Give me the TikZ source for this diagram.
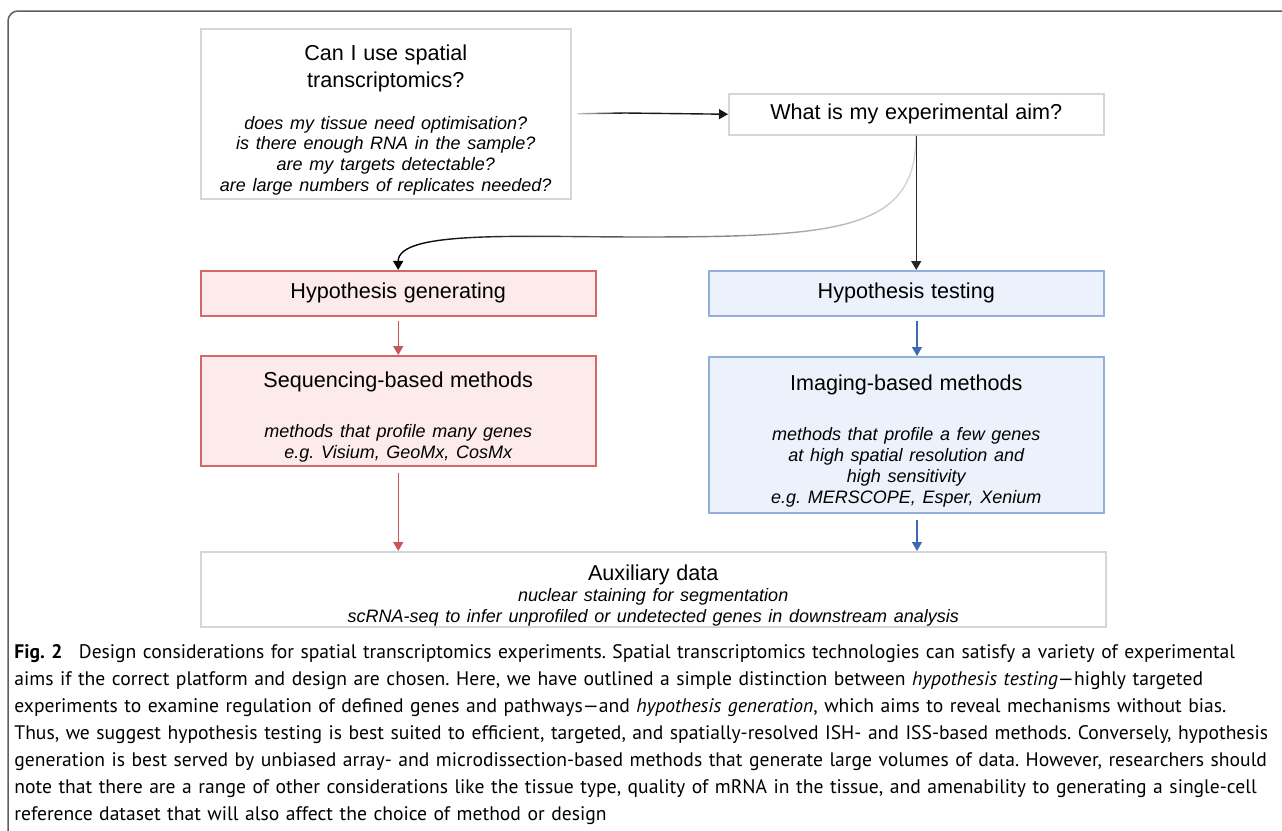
\documentclass[tikz,border=0pt]{standalone}
\usepackage{fontspec}
\setmainfont{Liberation Sans}
\newfontfamily\capfont{PT Sans}
\usetikzlibrary{positioning, arrows.meta, fadings}
\frenchspacing

\definecolor{boxgray}{HTML}{D3D6DB}
\definecolor{framegray}{HTML}{5E5E5E}
\definecolor{redline}{HTML}{D3676A}
\definecolor{redfill}{HTML}{FDEAEA}
\definecolor{redarrow}{HTML}{C8555A}
\definecolor{blueline}{HTML}{94AFDC}
\definecolor{bluefill}{HTML}{ECF2FB}
\definecolor{bluearrow}{HTML}{3B69B3}

\tikzfading[name=fadein, left color=transparent!80, right color=transparent!0]
\tikzfading[name=fadeaim, left color=transparent!0, middle color=transparent!0, right color=transparent!85]

\newcommand{\boxtitle}{\fontsize{10.8}{13.5}\selectfont}
\newcommand{\boxnote}{\itshape\fontsize{9}{10.4}\selectfont}
\newcommand{\topstrut}{\rule{0pt}{14pt}}

\begin{document}
\begin{tikzpicture}[x=0.5pt, y=-0.5pt,
    plain/.style={draw=boxgray, fill=white, line width=0.75pt, inner sep=0pt, align=center, anchor=north west},
    gen/.style={plain, draw=redline, fill=redfill},
    test/.style={plain, draw=blueline, fill=bluefill},
    tip/.style={-{Triangle[length=4.5pt, width=5pt]}, line width=0.7pt},
  ]
    \useasboundingbox (0,0) rectangle (1282,831);
    % Marco
    \draw[framegray, line width=0.75pt, rounded corners=5pt] (8,11) rectangle (1300,850);

    % Cajas
    \node[plain, text width=185pt, minimum height=85pt] (use) at (200,28)
        {{\boxtitle\topstrut Can I use spatial\\transcriptomics?\par}\vspace{10.6pt}
         {\boxnote does my tissue need optimisation?\\is there enough RNA in the sample?\\
          are my targets detectable?\\are large numbers of replicates needed?\par}};
    \node[plain, text width=187.5pt, minimum height=20.5pt] (aim) at (728,93)
        {\boxtitle What is my experimental aim?};
    \node[gen, text width=197.5pt, minimum height=22.5pt] (gen) at (200,270)
        {\boxtitle Hypothesis generating};
    \node[test, text width=197.5pt, minimum height=22.5pt] (test) at (708,270)
        {\boxtitle Hypothesis testing};
    \node[gen, text width=197.5pt, minimum height=55pt] (seq) at (200,355)
        {{\boxtitle\topstrut Sequencing-based methods\par}\vspace{14.6pt}
         {\boxnote methods that profile many genes\\e.g. Visium, GeoMx, CosMx\par}};
    \node[test, text width=197.5pt, minimum height=78pt] (img) at (708,356)
        {{\boxtitle\topstrut Imaging-based methods\par}\vspace{14.6pt}
         {\boxnote methods that profile a few genes\\at high spatial resolution and\\
          high sensitivity\\e.g. MERSCOPE, Esper, Xenium\par}};
    \node[plain, text width=452.5pt, minimum height=37.5pt] (aux) at (200,551)
        {{\boxtitle\topstrut Auxiliary data\par}
         {\boxnote nuclear staining for segmentation\\
          scRNA-seq to infer unprofiled or undetected genes in downstream analysis\par}};

    % Flechas
    \coordinate (bend) at (640,237);
    \coordinate (lane) at (917,0);
    \coordinate (fadeend) at (625,113);
    \draw[line width=0.7pt, path fading=fadein] ([xshift=3pt]use.east) -- (fadeend);
    \draw[tip, black!90] (fadeend) -- (aim.west);
    \draw[tip, path fading=fadeaim] (aim.south) .. controls +(0,95) and +(200,0) .. (bend)
        .. controls +(-120,0) and +(0,-40) .. (gen.north);
    \draw[tip, black!85] (aim.south) -- (aim.south |- test.north);
    \draw[tip, redarrow] ([yshift=-2pt]gen.south) -- (seq.north);
    \draw[tip, redarrow] ([yshift=-3pt]seq.south) -- (seq.south |- aux.north);
    \draw[tip, bluearrow] ([yshift=-2pt]lane |- test.south) -- (lane |- img.north);
    \draw[tip, bluearrow] ([yshift=-3pt]lane |- img.south) -- (lane |- aux.north);

    % Leyenda
    \node[anchor=north west, inner sep=0pt, align=left, text width=660pt,
          font=\capfont\fontsize{9.8}{13.5}\selectfont] (caption) at (14,644)
        {\textbf{Fig. 2}\hspace{0.5em} Design considerations for spatial transcriptomics experiments. Spatial transcriptomics technologies can satisfy a variety of experimental\\
         aims if the correct platform and design are chosen. Here, we have outlined a simple distinction between \textit{hypothesis testing}—highly targeted\\
         experiments to examine regulation of defined genes and pathways—and \textit{hypothesis generation}, which aims to reveal mechanisms without bias.\\
         Thus, we suggest hypothesis testing is best suited to efficient, targeted, and spatially-resolved ISH- and ISS-based methods. Conversely, hypothesis\\
         generation is best served by unbiased array- and microdissection-based methods that generate large volumes of data. However, researchers should\\
         note that there are a range of other considerations like the tissue type, quality of mRNA in the tissue, and amenability to generating a single-cell\\
         reference dataset that will also affect the choice of method or design};
\end{tikzpicture}
\end{document}
